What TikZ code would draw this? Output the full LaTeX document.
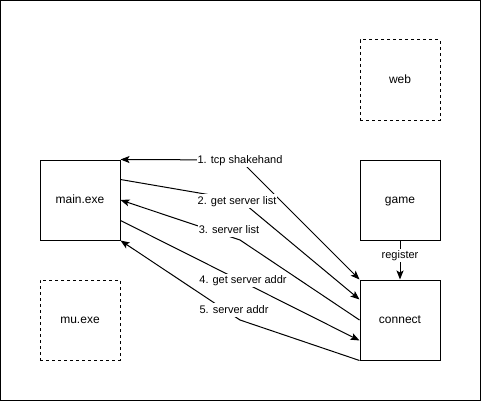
\documentclass[tikz,border=0pt]{standalone}
\usepackage{fontspec}
\setmainfont{Liberation Sans}
\usetikzlibrary{arrows.meta}

\begin{document}
\begin{tikzpicture}[x=1pt,y=-1pt,line width=1pt,>={Stealth[length=9pt,width=7pt,inset=2pt]},
    box/.style={draw,minimum width=80pt,minimum height=80pt,inner sep=0pt,text height=0.905em,text depth=0.212em,font=\fontsize{12}{14}\selectfont},
    lbl/.style={fill=white,inner sep=1pt,text height=0.905em,text depth=0.212em,font=\fontsize{11}{13}\selectfont}]
    \useasboundingbox (0,0) rectangle (481,401);
    \draw (0.5,0.5) rectangle (480.5,400.5);
    \foreach \nm/\px/\py/\txt/\st in {main/80/200/main.exe/solid,mu/80/320/mu.exe/dashed,web/400/80/web/dashed,game/400/200/game/solid,connect/400/320/connect/solid}
        \node[box,\st] (\nm) at (\px,\py) {\txt};
    \draw[<->] (main.north east) -- (240,160) node[lbl] {1. tcp shakehand} -- (connect.north west);
    \draw[->] ([yshift=-20pt]main.north east) -- (240,200) -- ([yshift=-20pt]connect.north west) node[lbl] at (237,201) {2. get server list};
    \draw[<-] (main.east) -- (240,240) -- (connect.west) node[lbl] at (229,230) {3. server list};
    \draw[->] ([yshift=20pt]main.south east) -- node[lbl,xshift=3pt] {4. get server addr} ([yshift=20pt]connect.south west);
    \draw[<-] (main.south east) -- (240,320) -- (connect.south west) node[lbl] at (234,310) {5. server addr};
    \draw[->] (game) -- node[lbl,pos=0.375] {register} (connect);
\end{tikzpicture}
\end{document}
